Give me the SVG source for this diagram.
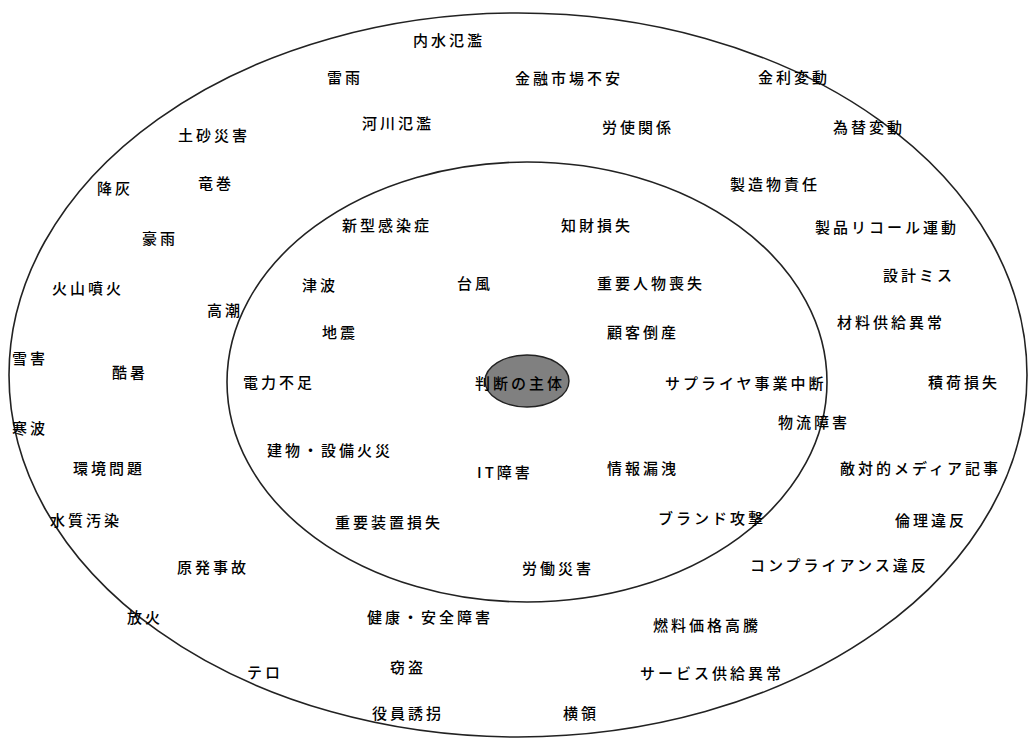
<svg xmlns="http://www.w3.org/2000/svg" width="1029" height="745" viewBox="0 0 1029 745">
<style>
.ring{fill:none;stroke:#222;stroke-width:1.6}
.core{fill:#808080;stroke:#222;stroke-width:1.4}
text{font-family:"Noto Sans CJK JP","Noto Sans CJK SC",sans-serif;font-size:15px;letter-spacing:3px;fill:#000;font-weight:500}
</style>
<rect width="1029" height="745" fill="#fff"/>
<g id="rings">
<ellipse id="outer-ring" class="ring" cx="518" cy="375" rx="509" ry="362"/>
<ellipse id="inner-ring" class="ring" cx="527" cy="382" rx="300" ry="220"/>
</g>
<g id="subject">
<ellipse class="core" cx="527" cy="381" rx="42" ry="26"/>
<text x="475" y="389">判断の主体</text>
</g>
<g id="inner-labels">
<text x="342" y="231">新型感染症</text>
<text x="561" y="231">知財損失</text>
<text x="302" y="291">津波</text>
<text x="457" y="289">台風</text>
<text x="597" y="289">重要人物喪失</text>
<text x="322" y="338">地震</text>
<text x="607" y="338">顧客倒産</text>
<text x="243" y="388">電力不足</text>
<text x="665" y="389">サプライヤ事業中断</text>
<text x="267" y="456">建物・設備火災</text>
<text x="477" y="478">IT障害</text>
<text x="607" y="474">情報漏洩</text>
<text x="335" y="528">重要装置損失</text>
<text x="658" y="524">ブランド攻撃</text>
<text x="522" y="574">労働災害</text>
</g>
<g id="outer-labels">
<text x="413" y="46">内水氾濫</text>
<text x="327" y="83">雷雨</text>
<text x="515" y="84">金融市場不安</text>
<text x="758" y="83">金利変動</text>
<text x="178" y="141">土砂災害</text>
<text x="362" y="129">河川氾濫</text>
<text x="602" y="133">労使関係</text>
<text x="833" y="133">為替変動</text>
<text x="97" y="194">降灰</text>
<text x="198" y="189">竜巻</text>
<text x="730" y="190">製造物責任</text>
<text x="142" y="244">豪雨</text>
<text x="815" y="233">製品リコール運動</text>
<text x="52" y="294">火山噴火</text>
<text x="883" y="281">設計ミス</text>
<text x="207" y="316">高潮</text>
<text x="837" y="328">材料供給異常</text>
<text x="12" y="364">雪害</text>
<text x="112" y="378">酷暑</text>
<text x="928" y="388">積荷損失</text>
<text x="12" y="434">寒波</text>
<text x="778" y="428">物流障害</text>
<text x="73" y="474">環境問題</text>
<text x="840" y="474">敵対的メディア記事</text>
<text x="50" y="526">水質汚染</text>
<text x="895" y="526">倫理違反</text>
<text x="177" y="573">原発事故</text>
<text x="750" y="571">コンプライアンス違反</text>
<text x="127" y="623">放火</text>
<text x="367" y="623">健康・安全障害</text>
<text x="653" y="631">燃料価格高騰</text>
<text x="247" y="678">テロ</text>
<text x="390" y="673">窃盗</text>
<text x="640" y="679">サービス供給異常</text>
<text x="372" y="719">役員誘拐</text>
<text x="563" y="719">横領</text>
</g>
</svg>
